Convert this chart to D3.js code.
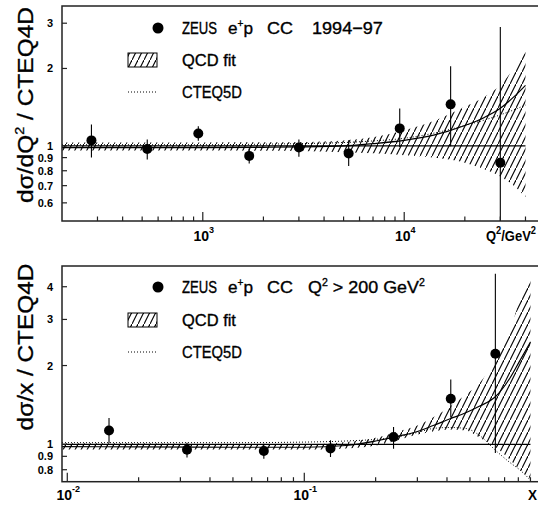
<!DOCTYPE html>
<html>
<head>
<meta charset="utf-8">
<script src="https://cdn.jsdelivr.net/npm/d3@7"></script>
<style>
  html, body { margin: 0; padding: 0; background: #fff; }
  svg { display: block; }
  text { font-family: "Liberation Sans", Arial, Helvetica, sans-serif; fill: #000; }
</style>
</head>
<body>
<svg id="chart" width="538" height="508"></svg>
<script>
// ---------------- DATA ----------------
// Top panel: d sigma / dQ^2 ratio to CTEQ4D
const q2Points   = [280, 530, 950, 1700, 3000, 5300, 9500, 17000, 30000];
const q2Ratio    = [1.05, 0.973, 1.117, 0.914, 0.986, 0.934, 1.169, 1.45, 0.86];
const q2ErrUp    = [1.21, 1.059, 1.193, 0.977, 1.059, 1.052, 1.398, 2.04, 2.9];
const q2ErrLo    = [0.90, 0.885, 1.046, 0.854, 0.906, 0.834, 0.99, 0.997, 0.45];

const q2Curve    = [200, 500, 1000, 2000, 3000, 5000, 7000, 10000, 14000, 20000, 25000, 30000, 35000, 40000];
const q2Fit      = [0.985, 0.985, 0.985, 0.987, 0.99, 1.0, 1.02, 1.05, 1.10, 1.20, 1.29, 1.40, 1.55, 1.72];
const q2Cteq5    = [1.01, 1.01, 1.01, 1.015, 1.02, 1.03, 1.045, 1.07, 1.12, 1.20, 1.26, 1.32, 1.38, 1.44];
const q2BandUp   = [1.03, 1.03, 1.03, 1.032, 1.035, 1.05, 1.08, 1.15, 1.25, 1.42, 1.55, 1.72, 2.0, 2.32];
const q2BandLo   = [0.96, 0.96, 0.96, 0.957, 0.955, 0.945, 0.935, 0.92, 0.90, 0.86, 0.81, 0.76, 0.70, 0.633];

// Bottom panel: d sigma / dx ratio to CTEQ4D
const xPoints    = [0.015, 0.032, 0.0675, 0.129, 0.238, 0.415, 0.64];
const xRatio     = [1.13, 0.954, 0.943, 0.965, 1.066, 1.494, 2.22];
const xErrUp     = [1.26, 1.015, 1.006, 1.036, 1.164, 1.767, 4.48];
const xErrLo     = [1.01, 0.89, 0.882, 0.894, 0.963, 1.27, 0.926];

const xCurve     = [0.0095, 0.02, 0.05, 0.1, 0.15, 0.2, 0.25, 0.3, 0.35, 0.41, 0.48, 0.55, 0.64, 0.74, 0.81, 0.9];
const xFit       = [0.98, 0.978, 0.975, 0.975, 0.99, 1.03, 1.075, 1.12, 1.18, 1.25, 1.32, 1.40, 1.52, 1.80, 2.08, 2.46];
const xCteq5     = [1.015, 1.015, 1.015, 1.02, 1.03, 1.045, 1.07, 1.11, 1.15, 1.16, 1.15, 1.08, 0.95, 0.85, 0.80, 0.73];
const xBandUp    = [1.01, 1.01, 1.0, 1.0, 1.02, 1.06, 1.12, 1.18, 1.27, 1.39, 1.55, 1.72, 2.09, 2.72, 3.55, 4.35];
const xBandLo    = [0.955, 0.955, 0.955, 0.955, 0.965, 0.99, 1.04, 1.09, 1.12, 1.14, 1.13, 1.06, 0.976, 0.87, 0.80, 0.74];

// Tick values / labels
const topYTicks  = [0.6, 0.7, 0.8, 0.9, 1, 2, 3];
const botYTicks  = [0.8, 0.9, 1, 2, 3, 4];
const topXMajor  = [{v: 1000, base: "10", exp: "3"}, {v: 10000, base: "10", exp: "4"}];
const botXMajor  = [{v: 0.01, base: "10", exp: "-2"}, {v: 0.1, base: "10", exp: "-1"}];

// ---------------- CHART ----------------
const svg = d3.select("#chart");
const defs = svg.append("defs");

const pat = defs.append("pattern")
  .attr("id", "hatch")
  .attr("patternUnits", "userSpaceOnUse")
  .attr("width", 6).attr("height", 12);
pat.append("path")
  .attr("d", "M-1,14 L7,-2")
  .attr("stroke", "#000").attr("stroke-width", 1.15).attr("fill", "none");

function fitX(t, width) {
  const node = t.node();
  const n = node.getComputedTextLength();
  const x = +node.getAttribute("data-x"), y = +node.getAttribute("data-y");
  node.setAttribute("transform", `translate(${x},${y}) scale(${width / n},1)`);
}

function supText(t, parts) {
  // parts: array of [text, isSup]
  let up = false;
  parts.forEach(([s, isSup]) => {
    const ts = t.append("tspan").text(s);
    if (isSup && !up) { ts.attr("dy", -7).attr("font-size", 10); up = true; }
    else if (isSup) { ts.attr("font-size", 10); }
    else if (up) { ts.attr("dy", 7); up = false; }
  });
}

function panel(cfg) {
  const g = svg.append("g");
  const {x, y} = cfg;
  const [x0, x1] = x.range();
  const [yb, yt] = y.range();

  const clipId = "clip" + cfg.id;
  defs.append("clipPath").attr("id", clipId)
    .append("rect").attr("x", x0).attr("y", yt).attr("width", x1 - x0).attr("height", yb - yt);

  const plot = g.append("g").attr("clip-path", `url(#${clipId})`);

  // Band
  const bandData = cfg.curveX.map((v, i) => ({x: v, lo: cfg.bandLo[i], hi: cfg.bandUp[i]}));
  plot.append("path")
    .datum(bandData)
    .attr("fill", "url(#hatch)")
    .attr("d", d3.area().curve(d3.curveMonotoneX)
      .x(d => x(d.x)).y0(d => y(d.lo)).y1(d => y(d.hi)));

  // Line at 1
  const xEnd = cfg.curveX[cfg.curveX.length - 1];
  plot.append("line")
    .attr("x1", x0).attr("x2", x(xEnd))
    .attr("y1", y(1)).attr("y2", y(1))
    .attr("stroke", "#000").attr("stroke-width", 1.2);

  // CTEQ5D dotted
  plot.append("path")
    .datum(cfg.curveX.map((v, i) => [v, cfg.cteq[i]]))
    .attr("fill", "none").attr("stroke", "#000").attr("stroke-width", 1)
    .attr("stroke-dasharray", "1,2")
    .attr("d", d3.line().curve(d3.curveMonotoneX).x(d => x(d[0])).y(d => y(d[1])));

  // QCD fit solid
  plot.append("path")
    .datum(cfg.curveX.map((v, i) => [v, cfg.fit[i]]))
    .attr("fill", "none").attr("stroke", "#000").attr("stroke-width", 1.2)
    .attr("d", d3.line().curve(d3.curveMonotoneX).x(d => x(d[0])).y(d => y(d[1])));

  // Data points
  const pts = cfg.px.map((v, i) => ({x: v, r: cfg.pr[i], up: cfg.pup[i], lo: cfg.plo[i]}));
  plot.selectAll(".err").data(pts).enter().append("line")
    .attr("x1", d => x(d.x)).attr("x2", d => x(d.x))
    .attr("y1", d => y(d.up)).attr("y2", d => y(d.lo))
    .attr("stroke", "#000").attr("stroke-width", 1.1);
  plot.selectAll(".pt").data(pts).enter().append("circle")
    .attr("cx", d => x(d.x)).attr("cy", d => y(d.r)).attr("r", 5).attr("fill", "#000");

  // Frame
  g.append("rect")
    .attr("x", x0).attr("y", yt).attr("width", x1 - x0).attr("height", yb - yt)
    .attr("fill", "none").attr("stroke", "#222").attr("stroke-width", 1.5);

  // X ticks (inward)
  const [d0, d1] = x.domain();
  const xt = [];
  for (let e = Math.floor(Math.log10(d0)); e <= Math.ceil(Math.log10(d1)); e++) {
    for (let m = 1; m <= 9; m++) {
      const v = m * Math.pow(10, e);
      if (v >= d0 * 1.001 && v <= d1 * 0.999) xt.push({v, major: m === 1});
    }
  }
  g.selectAll(".xt").data(xt).enter().append("line")
    .attr("x1", d => x(d.v)).attr("x2", d => x(d.v))
    .attr("y1", yb).attr("y2", d => yb - (d.major ? 9 : 4.5))
    .attr("stroke", "#222").attr("stroke-width", 1.2);

  // Y ticks
  g.selectAll(".yt").data(cfg.yTicks).enter().append("line")
    .attr("x1", x0).attr("x2", x0 + 5)
    .attr("y1", d => y(d)).attr("y2", d => y(d))
    .attr("stroke", "#222").attr("stroke-width", 1.2);
  g.selectAll(".yl").data(cfg.yTicks).enter().append("text")
    .attr("x", x0 - 9).attr("y", d => y(d) + 4)
    .attr("text-anchor", "end")
    .attr("font-size", 11).attr("font-weight", "bold")
    .text(d => d);

  // X major labels
  cfg.xMajor.forEach(t => {
    const tx = g.append("text")
      .attr("x", x(t.v) + 1).attr("y", cfg.xLabelY)
      .attr("text-anchor", "middle")
      .attr("font-size", 14).attr("font-weight", "bold");
    tx.append("tspan").text(t.base);
    tx.append("tspan").attr("dy", -8).attr("font-size", 9).text(t.exp);
  });

  // axis title
  const at = g.append("text").attr("font-size", 14).attr("font-weight", "bold")
    .attr("data-x", cfg.axisTitleX).attr("data-y", cfg.xLabelY);
  cfg.axisTitle(at);
  fitX(at, cfg.axisTitleW);

  // Y axis label (rotated)
  const yl = g.append("text")
    .attr("font-size", 22)
    .attr("text-anchor", "middle")
    .attr("stroke", "#000").attr("stroke-width", 0.3);
  cfg.yLabel(yl);
  const n = yl.node().getComputedTextLength();
  yl.attr("transform", `translate(33,${cfg.yLabelCenter}) rotate(-90) scale(${cfg.yLabelLen / n},1)`);

  // Legend
  const L = cfg.legendY; // row centers
  g.append("circle").attr("cx", 158).attr("cy", L[0]).attr("r", 5.5).attr("fill", "#000");
  g.append("rect").attr("x", 128).attr("y", L[1] - 7).attr("width", 29).attr("height", 14)
    .attr("fill", "url(#hatch)").attr("stroke", "#000").attr("stroke-width", 1);
  g.append("line").attr("x1", 128).attr("x2", 158).attr("y1", L[2]).attr("y2", L[2])
    .attr("stroke", "#000").attr("stroke-width", 1).attr("stroke-dasharray", "1,2");

  cfg.legendTokens.forEach(tok => {
    const t = g.append("text").attr("font-size", 17)
      .attr("stroke", "#000").attr("stroke-width", 0.35)
      .attr("data-x", tok.x).attr("data-y", L[tok.row] + 6);
    supText(t, tok.parts);
    fitX(t, tok.w);
  });
}

// Top panel
panel({
  id: "top",
  x: d3.scaleLog().domain([200, 50000]).range([62, 545]),
  y: d3.scaleLog().domain([0.51, 3.5]).range([221, 6]),
  px: q2Points, pr: q2Ratio, pup: q2ErrUp, plo: q2ErrLo,
  curveX: q2Curve, fit: q2Fit, cteq: q2Cteq5, bandUp: q2BandUp, bandLo: q2BandLo,
  yTicks: topYTicks, xMajor: topXMajor, xLabelY: 241,
  axisTitleX: 486, axisTitleW: 50,
  axisTitle: t => supText(t, [["Q", false], ["2", true], ["/GeV", false], ["2", true]]),
  yLabelCenter: 105, yLabelLen: 196,
  yLabel: t => {
    t.append("tspan").text("dσ/dQ");
    t.append("tspan").attr("dy", -9).attr("font-size", 13).text("2");
    t.append("tspan").attr("dy", 9).text(" / CTEQ4D");
  },
  legendY: [28, 60, 92],
  legendTokens: [
    {row: 0, x: 182, w: 35, parts: [["ZEUS", false]]},
    {row: 0, x: 228, w: 25, parts: [["e", false], ["+", true], ["p", false]]},
    {row: 0, x: 267, w: 26, parts: [["CC", false]]},
    {row: 0, x: 312, w: 71, parts: [["1994\u221297", false]]},
    {row: 1, x: 182, w: 54, parts: [["QCD fit", false]]},
    {row: 2, x: 182, w: 60, parts: [["CTEQ5D", false]]}
  ]
});

// Bottom panel
panel({
  id: "bot",
  x: d3.scaleLog().domain([0.0095, 1]).range([62, 541.3]),
  y: d3.scaleLog().domain([0.72, 4.8]).range([481.7, 266]),
  px: xPoints, pr: xRatio, pup: xErrUp, plo: xErrLo,
  curveX: xCurve, fit: xFit, cteq: xCteq5, bandUp: xBandUp, bandLo: xBandLo,
  yTicks: botYTicks, xMajor: botXMajor, xLabelY: 500,
  axisTitleX: 528, axisTitleW: 9,
  axisTitle: t => t.text("X"),
  yLabelCenter: 347, yLabelLen: 167,
  yLabel: t => { t.append("tspan").text("dσ/x / CTEQ4D"); },
  legendY: [287, 320, 352],
  legendTokens: [
    {row: 0, x: 182, w: 35, parts: [["ZEUS", false]]},
    {row: 0, x: 228, w: 25, parts: [["e", false], ["+", true], ["p", false]]},
    {row: 0, x: 267, w: 26, parts: [["CC", false]]},
    {row: 0, x: 308, w: 117, parts: [["Q", false], ["2", true], [" > 200 GeV", false], ["2", true]]},
    {row: 1, x: 182, w: 54, parts: [["QCD fit", false]]},
    {row: 2, x: 182, w: 60, parts: [["CTEQ5D", false]]}
  ]
});
</script>
</body>
</html>
